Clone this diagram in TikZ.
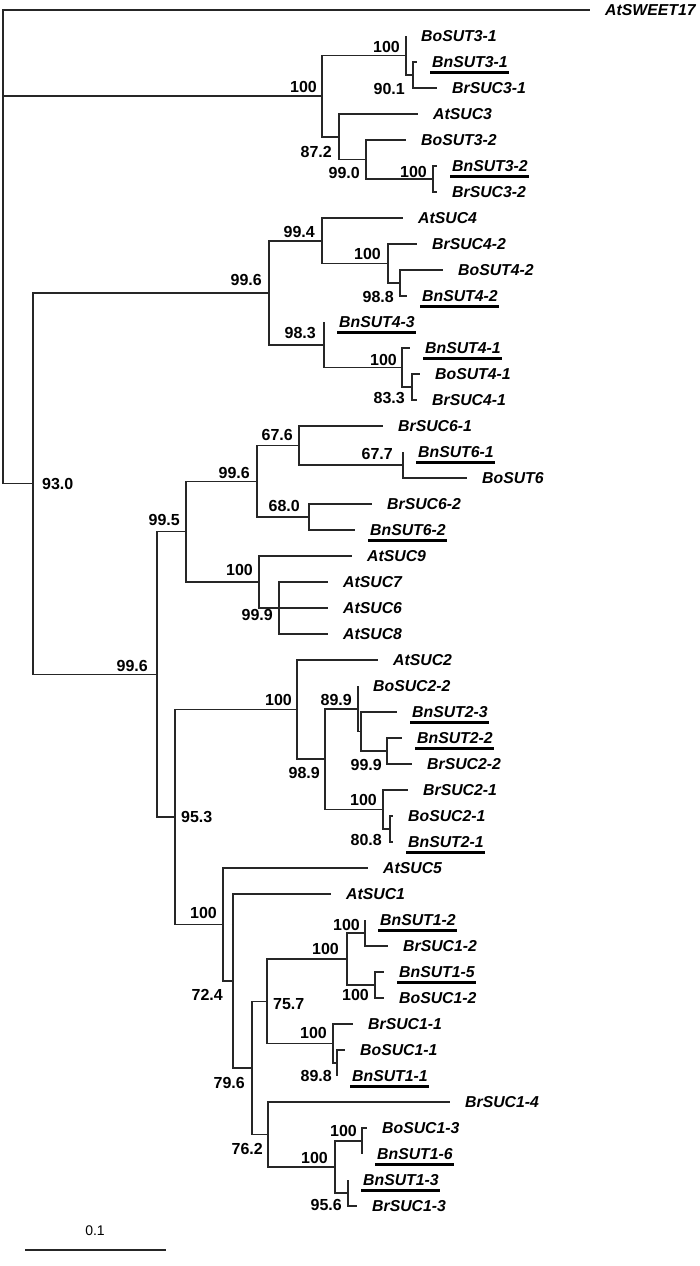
\documentclass[tikz,border=0pt]{standalone}
\usepackage{fontspec}
\setmainfont{Liberation Sans}
\newcommand{\lblfont}{\fontsize{15.8}{18}\selectfont\bfseries\itshape}
\newcommand{\bsfont}{\fontsize{16}{19}\selectfont\bfseries}
\newcommand{\leaf}[4]{\coordinate (#1) at (#2,#3);\node[lf] (#1t) at ([xshift=15pt]#1) {#4};}
\newcommand{\uln}[1]{\draw[ul] ([xshift=-2pt,yshift=-4.5pt]#1t.south west) -- ([xshift=1pt,yshift=-4.5pt]#1t.south east);}
\newcommand{\bsl}[4]{\node[bs,anchor=east] (#1b) at ([xshift=-#2pt,yshift=#3pt]#1) {#4};}
\newcommand{\bsr}[4]{\node[bs,anchor=west] (#1b) at ([xshift=#2pt,yshift=#3pt]#1) {#4};}
\begin{document}
\begin{tikzpicture}[x=1pt,y=-1pt,
  br/.style={line width=1.5pt,draw=black!85},
  lf/.style={anchor=west,inner sep=0pt,font=\lblfont,text height=11pt,text depth=0pt},
  bs/.style={inner sep=0pt,font=\bsfont,text height=11.5pt,text depth=0pt},
  ul/.style={line width=3pt,draw=black},
  sbar/.style={line width=2pt,draw=black!85}]
\useasboundingbox (0,0) rectangle (700,1266);
% leaves
\leaf{L0}{590}{10}{AtSWEET17}
\leaf{L1}{406}{36}{BoSUT3-1}
\leaf{L2}{417}{62}{BnSUT3-1}
\leaf{L3}{437}{88}{BrSUC3-1}
\leaf{L4}{418}{114}{AtSUC3}
\leaf{L5}{406}{140}{BoSUT3-2}
\leaf{L6}{437}{166}{BnSUT3-2}
\leaf{L7}{437}{192}{BrSUC3-2}
\leaf{L8}{403}{218}{AtSUC4}
\leaf{L9}{417}{244}{BrSUC4-2}
\leaf{L10}{443}{270}{BoSUT4-2}
\leaf{L11}{407}{296}{BnSUT4-2}
\leaf{L12}{324}{322}{BnSUT4-3}
\leaf{L13}{410}{348}{BnSUT4-1}
\leaf{L14}{420}{374}{BoSUT4-1}
\leaf{L15}{417}{400}{BrSUC4-1}
\leaf{L16}{383}{426}{BrSUC6-1}
\leaf{L17}{403}{452}{BnSUT6-1}
\leaf{L18}{467}{478}{BoSUT6}
\leaf{L19}{372}{504}{BrSUC6-2}
\leaf{L20}{355}{530}{BnSUT6-2}
\leaf{L21}{352}{556}{AtSUC9}
\leaf{L22}{328}{582}{AtSUC7}
\leaf{L23}{328}{608}{AtSUC6}
\leaf{L24}{328}{634}{AtSUC8}
\leaf{L25}{378}{660}{AtSUC2}
\leaf{L26}{358}{686}{BoSUC2-2}
\leaf{L27}{397}{712}{BnSUT2-3}
\leaf{L28}{402}{738}{BnSUT2-2}
\leaf{L29}{412}{764}{BrSUC2-2}
\leaf{L30}{408}{790}{BrSUC2-1}
\leaf{L31}{393}{816}{BoSUC2-1}
\leaf{L32}{393}{842}{BnSUT2-1}
\leaf{L33}{368}{868}{AtSUC5}
\leaf{L34}{331}{894}{AtSUC1}
\leaf{L35}{365}{920}{BnSUT1-2}
\leaf{L36}{388}{946}{BrSUC1-2}
\leaf{L37}{384}{972}{BnSUT1-5}
\leaf{L38}{384}{998}{BoSUC1-2}
\leaf{L39}{353}{1024}{BrSUC1-1}
\leaf{L40}{345}{1050}{BoSUC1-1}
\leaf{L41}{337}{1076}{BnSUT1-1}
\leaf{L42}{450}{1102}{BrSUC1-4}
\leaf{L43}{367}{1128}{BoSUC1-3}
\leaf{L44}{362}{1154}{BnSUT1-6}
\leaf{L45}{348}{1180}{BnSUT1-3}
\leaf{L46}{357}{1206}{BrSUC1-3}
\foreach \u in {L2,L6,L11,L12,L13,L17,L20,L27,L28,L32,L35,L37,L41,L44,L45}{\uln{\u}}
% internal nodes
\coordinate (root) at (3,246.75);
\coordinate (s3) at (322,96.1);
\coordinate (a3) at (406,55.5);
\coordinate (n901) at (413,75);
\coordinate (n872) at (339,136.75);
\coordinate (n990) at (366,159.5);
\coordinate (b3) at (433,179);
\coordinate (n930) at (33,483.5);
\coordinate (n996a) at (269,292.75);
\coordinate (n994) at (322,240.75);
\coordinate (c4) at (388,263.5);
\coordinate (n988) at (400,283);
\coordinate (n983) at (324,344.75);
\coordinate (d4) at (402,367.5);
\coordinate (n833) at (412,387);
\coordinate (n996c) at (157,674.3);
\coordinate (n995) at (186,531.6);
\coordinate (n996b) at (257,481.25);
\coordinate (n676) at (299,445.5);
\coordinate (n677) at (403,465);
\coordinate (n680) at (309,517);
\coordinate (e9) at (259,582);
\coordinate (n999a) at (279,608);
\coordinate (n953) at (175,817.05);
\coordinate (h2) at (297,709.6);
\coordinate (n989) at (325,759.1);
\coordinate (n899) at (358,708.75);
\coordinate (f2) at (361,731.5);
\coordinate (n999b) at (387,751);
\coordinate (g2) at (383,809.5);
\coordinate (n808) at (390,829);
\coordinate (p1) at (223,924.5);
\coordinate (n724) at (233,980.9);
\coordinate (n796) at (252,1067.9);
\coordinate (n757) at (267,1001.25);
\coordinate (k1) at (347,959);
\coordinate (i1) at (365,933);
\coordinate (j1) at (375,985);
\coordinate (l1) at (333,1043.5);
\coordinate (n898) at (337,1063);
\coordinate (n762) at (268,1134.5);
\coordinate (o1) at (335,1167);
\coordinate (m1) at (362,1141);
\coordinate (n956) at (348,1193);
% branches
\draw[br] (root) |- (L0) (root) |- (s3) (root) |- (n930);
\draw[br] (s3) |- (a3) (s3) |- (n872);
\draw[br] (a3) |- (L1) (a3) |- (n901);
\draw[br] (n901) |- (L2) (n901) |- (L3);
\draw[br] (n872) |- (L4) (n872) |- (n990);
\draw[br] (n990) |- (L5) (n990) |- (b3);
\draw[br] (b3) |- (L6) (b3) |- (L7);
\draw[br] (n930) |- (n996a) (n930) |- (n996c);
\draw[br] (n996a) |- (n994) (n996a) |- (n983);
\draw[br] (n994) |- (L8) (n994) |- (c4);
\draw[br] (c4) |- (L9) (c4) |- (n988);
\draw[br] (n988) |- (L10) (n988) |- (L11);
\draw[br] (n983) |- (L12) (n983) |- (d4);
\draw[br] (d4) |- (L13) (d4) |- (n833);
\draw[br] (n833) |- (L14) (n833) |- (L15);
\draw[br] (n996c) |- (n995) (n996c) |- (n953);
\draw[br] (n995) |- (n996b) (n995) |- (e9);
\draw[br] (n996b) |- (n676) (n996b) |- (n680);
\draw[br] (n676) |- (L16) (n676) |- (n677);
\draw[br] (n677) |- (L17) (n677) |- (L18);
\draw[br] (n680) |- (L19) (n680) |- (L20);
\draw[br] (e9) |- (L21) (e9) |- (n999a);
\draw[br] (n999a) |- (L22) (n999a) |- (L23) (n999a) |- (L24);
\draw[br] (n953) |- (h2) (n953) |- (p1);
\draw[br] (h2) |- (L25) (h2) |- (n989);
\draw[br] (n989) |- (n899) (n989) |- (g2);
\draw[br] (n899) |- (L26) (n899) |- (f2);
\draw[br] (f2) |- (L27) (f2) |- (n999b);
\draw[br] (n999b) |- (L28) (n999b) |- (L29);
\draw[br] (g2) |- (L30) (g2) |- (n808);
\draw[br] (n808) |- (L31) (n808) |- (L32);
\draw[br] (p1) |- (L33) (p1) |- (n724);
\draw[br] (n724) |- (L34) (n724) |- (n796);
\draw[br] (n796) |- (n757) (n796) |- (n762);
\draw[br] (n757) |- (k1) (n757) |- (l1);
\draw[br] (k1) |- (i1) (k1) |- (j1);
\draw[br] (i1) |- (L35) (i1) |- (L36);
\draw[br] (j1) |- (L37) (j1) |- (L38);
\draw[br] (l1) |- (L39) (l1) |- (n898);
\draw[br] (n898) |- (L40) (n898) |- (L41);
\draw[br] (n762) |- (L42) (n762) |- (o1);
\draw[br] (o1) |- (m1) (o1) |- (n956);
\draw[br] (m1) |- (L43) (m1) |- (L44);
\draw[br] (n956) |- (L45) (n956) |- (L46);
% bootstrap values
\bsl{s3}{5}{9}{100}
\bsl{a3}{6}{8.5}{100}
\bsl{n901}{8}{-14}{90.1}
\bsl{n872}{7}{-15}{87.2}
\bsl{n990}{6}{-13.5}{99.0}
\bsl{b3}{6}{7}{100}
\bsl{n994}{7}{9}{99.4}
\bsl{c4}{7}{10}{100}
\bsl{n988}{6}{-14}{98.8}
\bsl{n983}{8}{12}{98.3}
\bsl{n996a}{7}{13}{99.6}
\bsl{d4}{5}{7.5}{100}
\bsl{n833}{7}{-11}{83.3}
\bsr{n930}{9}{0}{93.0}
\bsl{n676}{6}{10.5}{67.6}
\bsl{n677}{10}{11}{67.7}
\bsl{n996b}{7}{9}{99.6}
\bsl{n680}{9}{11}{68.0}
\bsl{n995}{6}{11.6}{99.5}
\bsl{e9}{6}{12}{100}
\bsl{n999a}{6}{-7}{99.9}
\bsl{n996c}{9}{9}{99.6}
\bsl{h2}{5}{9.6}{100}
\bsl{n899}{6}{9}{89.9}
\bsl{n999b}{5}{-14}{99.9}
\bsl{n989}{5}{-14}{98.9}
\bsl{g2}{6}{9.5}{100}
\bsr{n953}{6}{0}{95.3}
\bsl{n808}{8}{-11}{80.8}
\bsl{p1}{6}{11.5}{100}
\bsl{i1}{5}{8}{100}
\bsl{k1}{8}{10}{100}
\bsl{n724}{10}{-14}{72.4}
\bsl{j1}{6}{-10}{100}
\bsr{n757}{6}{-2}{75.7}
\bsl{l1}{6}{10.5}{100}
\bsl{n898}{5}{-13}{89.8}
\bsl{n796}{7}{-15}{79.6}
\bsl{n762}{5}{-14}{76.2}
\bsl{m1}{5}{10}{100}
\bsl{o1}{7}{9}{100}
\bsl{n956}{6}{-12}{95.6}
% scale bar
\coordinate (sb1) at (25,1250);
\coordinate (sb2) at (166,1250);
\draw[sbar] (sb1) -- (sb2);
\node[inner sep=0pt,font=\fontsize{14}{16}\selectfont,text height=10pt,text depth=0pt] (sbl) at (95,1230) {0.1};
\end{tikzpicture}
\end{document}
